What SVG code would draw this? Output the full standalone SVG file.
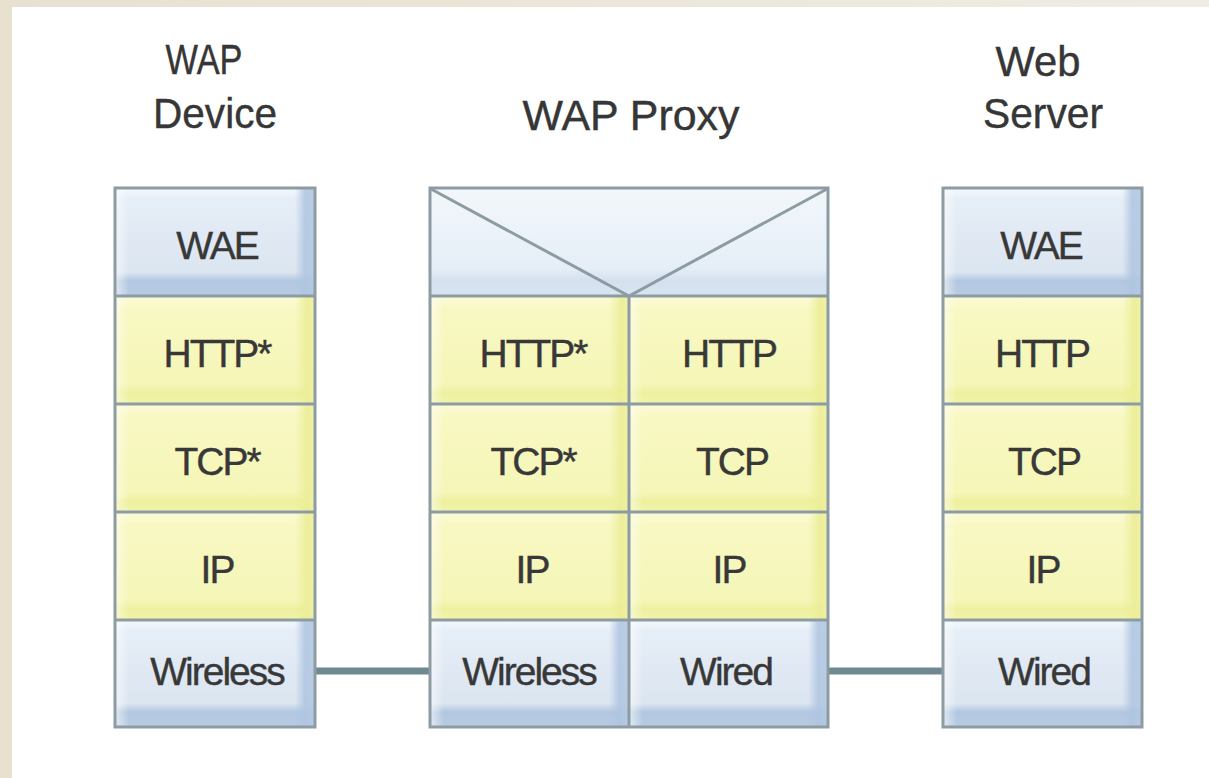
<svg xmlns="http://www.w3.org/2000/svg" width="1209" height="778" viewBox="0 0 1209 778">
  <style>
    .title { font-family: "Liberation Sans", Arial, sans-serif; font-size: 42px; fill: #363636; stroke: #363636; stroke-width: 0.4; text-anchor: middle; }
    .lbl { font-family: "Liberation Sans", Arial, sans-serif; font-size: 39px; letter-spacing: -2px; fill: #383838; stroke: #383838; stroke-width: 0.4; text-anchor: middle; }
    .blue { fill: url(#blueV); }
    .blueEdge { fill: url(#blueH); }
    .yel { fill: url(#yelV); }
    .yelEdge { fill: url(#yelH); }
    .frame { fill: none; stroke: #8c9ca2; stroke-width: 3; }
    .grid { stroke: #8c9ca2; stroke-width: 3; }
    .link { stroke: #6f8891; stroke-width: 7; }
  </style>
  <defs>
    <linearGradient id="page" x1="0" y1="0" x2="1" y2="0">
      <stop offset="0" stop-color="#e9e1cf"/>
      <stop offset="1" stop-color="#efece4"/>
    </linearGradient>
    <linearGradient id="blueV" x1="0" y1="0" x2="0" y2="1">
      <stop offset="0" stop-color="#f4f8fc"/>
      <stop offset="0.1" stop-color="#e6eef7"/>
      <stop offset="0.78" stop-color="#dbe5f0"/>
      <stop offset="0.86" stop-color="#b2c7e0"/>
      <stop offset="1" stop-color="#b8cbe3"/>
    </linearGradient>
    <linearGradient id="blueH" x1="0" y1="0" x2="1" y2="0">
      <stop offset="0" stop-color="#ffffff" stop-opacity="0.6"/>
      <stop offset="0.07" stop-color="#ffffff" stop-opacity="0"/>
      <stop offset="0.9" stop-color="#b0c6e1" stop-opacity="0"/>
      <stop offset="0.95" stop-color="#aec4e0" stop-opacity="0.85"/>
      <stop offset="1" stop-color="#b6cae3" stop-opacity="0.9"/>
    </linearGradient>
    <linearGradient id="yelV" x1="0" y1="0" x2="0" y2="1">
      <stop offset="0" stop-color="#fbfbd9"/>
      <stop offset="0.12" stop-color="#f8f8c3"/>
      <stop offset="0.82" stop-color="#f5f6b7"/>
      <stop offset="0.9" stop-color="#eef09f"/>
      <stop offset="1" stop-color="#f1f3ab"/>
    </linearGradient>
    <linearGradient id="yelH" x1="0" y1="0" x2="1" y2="0">
      <stop offset="0" stop-color="#ffffff" stop-opacity="0.5"/>
      <stop offset="0.07" stop-color="#ffffff" stop-opacity="0"/>
      <stop offset="0.9" stop-color="#ecee9a" stop-opacity="0"/>
      <stop offset="0.96" stop-color="#ebed96" stop-opacity="0.9"/>
      <stop offset="1" stop-color="#eff1a4" stop-opacity="0.9"/>
    </linearGradient>
    <linearGradient id="proxyTop" x1="0" y1="0" x2="0" y2="1">
      <stop offset="0" stop-color="#f3f7fb"/>
      <stop offset="0.75" stop-color="#e5eef7"/>
      <stop offset="0.86" stop-color="#d3e0ee"/>
      <stop offset="1" stop-color="#d9e5f1"/>
    </linearGradient>
  </defs>

  <!-- page -->
  <rect x="0" y="0" width="1209" height="778" fill="url(#page)"/>
  <rect x="12" y="7" width="1197" height="771" fill="#ffffff"/>

  <!-- titles -->
  <g id="titles">
    <text class="title" x="204" y="74" textLength="77" lengthAdjust="spacingAndGlyphs">WAP</text>
    <text class="title" x="215" y="128" textLength="124" lengthAdjust="spacingAndGlyphs">Device</text>
    <text class="title" x="631" y="130" textLength="217" lengthAdjust="spacingAndGlyphs">WAP Proxy</text>
    <text class="title" x="1038" y="76" textLength="85" lengthAdjust="spacingAndGlyphs">Web</text>
    <text class="title" x="1043" y="128" textLength="120" lengthAdjust="spacingAndGlyphs">Server</text>
  </g>

  <!-- connectors -->
  <g id="connectors">
    <line class="link" x1="315" y1="671" x2="430" y2="671"/>
    <line class="link" x1="828" y1="671" x2="943" y2="671"/>
  </g>

  <!-- WAP device stack -->
  <g id="wap-device">
    <rect class="blue" x="115" y="188" width="200" height="108"/>
    <rect class="blueEdge" x="115" y="188" width="200" height="108"/>
    <rect class="yel" x="115" y="296" width="200" height="108"/>
    <rect class="yelEdge" x="115" y="296" width="200" height="108"/>
    <rect class="yel" x="115" y="404" width="200" height="108"/>
    <rect class="yelEdge" x="115" y="404" width="200" height="108"/>
    <rect class="yel" x="115" y="512" width="200" height="108"/>
    <rect class="yelEdge" x="115" y="512" width="200" height="108"/>
    <rect class="blue" x="115" y="620" width="200" height="107"/>
    <rect class="blueEdge" x="115" y="620" width="200" height="107"/>
    <line class="grid" x1="115" y1="296" x2="315" y2="296"/>
    <line class="grid" x1="115" y1="404" x2="315" y2="404"/>
    <line class="grid" x1="115" y1="512" x2="315" y2="512"/>
    <line class="grid" x1="115" y1="620" x2="315" y2="620"/>
    <rect class="frame" x="115" y="188" width="200" height="539"/>
    <text class="lbl" x="217" y="259">WAE</text>
    <text class="lbl" x="217" y="367">HTTP*</text>
    <text class="lbl" x="217" y="475">TCP*</text>
    <text class="lbl" x="217" y="583">IP</text>
    <text class="lbl" x="217" y="685">Wireless</text>
  </g>

  <!-- WAP proxy stack -->
  <g id="wap-proxy">
    <rect x="430" y="188" width="398" height="108" fill="url(#proxyTop)"/>
    <rect class="yel" x="430" y="296" width="199" height="108"/>
    <rect class="yelEdge" x="430" y="296" width="199" height="108"/>
    <rect class="yel" x="629" y="296" width="199" height="108"/>
    <rect class="yelEdge" x="629" y="296" width="199" height="108"/>
    <rect class="yel" x="430" y="404" width="199" height="108"/>
    <rect class="yelEdge" x="430" y="404" width="199" height="108"/>
    <rect class="yel" x="629" y="404" width="199" height="108"/>
    <rect class="yelEdge" x="629" y="404" width="199" height="108"/>
    <rect class="yel" x="430" y="512" width="199" height="108"/>
    <rect class="yelEdge" x="430" y="512" width="199" height="108"/>
    <rect class="yel" x="629" y="512" width="199" height="108"/>
    <rect class="yelEdge" x="629" y="512" width="199" height="108"/>
    <rect class="blue" x="430" y="620" width="199" height="107"/>
    <rect class="blueEdge" x="430" y="620" width="199" height="107"/>
    <rect class="blue" x="629" y="620" width="199" height="107"/>
    <rect class="blueEdge" x="629" y="620" width="199" height="107"/>
    <polyline class="frame" stroke="#8298a8" points="431,189 629,296 827,189"/>
    <line class="grid" x1="430" y1="296" x2="828" y2="296"/>
    <line class="grid" x1="430" y1="404" x2="828" y2="404"/>
    <line class="grid" x1="430" y1="512" x2="828" y2="512"/>
    <line class="grid" x1="430" y1="620" x2="828" y2="620"/>
    <line class="grid" x1="629" y1="296" x2="629" y2="727"/>
    <rect class="frame" x="430" y="188" width="398" height="539"/>
    <text class="lbl" x="533" y="367">HTTP*</text>
    <text class="lbl" x="729" y="367">HTTP</text>
    <text class="lbl" x="533" y="475">TCP*</text>
    <text class="lbl" x="732" y="475">TCP</text>
    <text class="lbl" x="532" y="583">IP</text>
    <text class="lbl" x="729" y="583">IP</text>
    <text class="lbl" x="529" y="685">Wireless</text>
    <text class="lbl" x="726" y="685">Wired</text>
  </g>

  <!-- web server stack -->
  <g id="web-server">
    <rect class="blue" x="943" y="188" width="199" height="108"/>
    <rect class="blueEdge" x="943" y="188" width="199" height="108"/>
    <rect class="yel" x="943" y="296" width="199" height="108"/>
    <rect class="yelEdge" x="943" y="296" width="199" height="108"/>
    <rect class="yel" x="943" y="404" width="199" height="108"/>
    <rect class="yelEdge" x="943" y="404" width="199" height="108"/>
    <rect class="yel" x="943" y="512" width="199" height="108"/>
    <rect class="yelEdge" x="943" y="512" width="199" height="108"/>
    <rect class="blue" x="943" y="620" width="199" height="107"/>
    <rect class="blueEdge" x="943" y="620" width="199" height="107"/>
    <line class="grid" x1="943" y1="296" x2="1142" y2="296"/>
    <line class="grid" x1="943" y1="404" x2="1142" y2="404"/>
    <line class="grid" x1="943" y1="512" x2="1142" y2="512"/>
    <line class="grid" x1="943" y1="620" x2="1142" y2="620"/>
    <rect class="frame" x="943" y="188" width="199" height="539"/>
    <text class="lbl" x="1041" y="259">WAE</text>
    <text class="lbl" x="1042" y="367">HTTP</text>
    <text class="lbl" x="1044" y="475">TCP</text>
    <text class="lbl" x="1043" y="583">IP</text>
    <text class="lbl" x="1044" y="685">Wired</text>
  </g>
</svg>
